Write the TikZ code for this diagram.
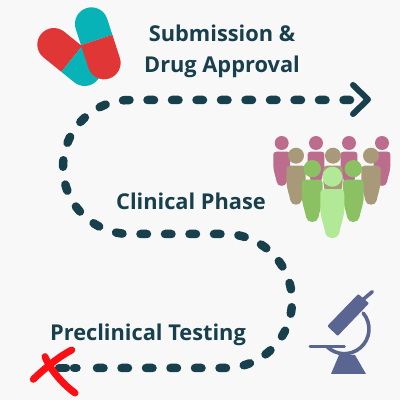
\documentclass[tikz,border=0pt]{standalone}
\usepackage{fontspec}
\setmainfont{Open Sans}
\usepackage{tikz}
\usetikzlibrary{calc, positioning}
\definecolor{pagebg}{HTML}{F8F8F8}
\definecolor{trailteal}{HTML}{173F4C}
\definecolor{pillred}{HTML}{E03636}
\definecolor{pillteal}{HTML}{08B3B8}
\definecolor{crowdpink}{HTML}{BC6C8C}
\definecolor{crowdtan}{HTML}{A89A78}
\definecolor{crowdgreen}{HTML}{8BC163}
\definecolor{crowdlight}{HTML}{B2E996}
\definecolor{scopeblue}{HTML}{5B6592}
\definecolor{markred}{HTML}{FB0F14}
\tikzset{
  trail/.style      = {draw=trailteal, line width=8.5pt, line cap=round,
                       dash pattern=on 6.5pt off 18pt},
  trailtip/.style   = {draw=trailteal, line width=6pt, line cap=round, line join=round},
  phaselab/.style   = {font=\fontsize{21.8}{31}\selectfont\bfseries, text=trailteal,
                       align=center, inner sep=0pt},
  scopeline/.style  = {draw=scopeblue, line width=3.6pt, line cap=round},
  markstroke/.style = {draw=markred, line width=7pt, line cap=round},
}
\newcommand{\halfpill}[4]{%
  \fill[#4, shift={(#1)}, rotate=#2] (0,-16.5) -- (#3,-16.5)
    arc[start angle=-90, end angle=90, radius=16.5] -- (0,16.5) -- cycle;}
\newcommand{\person}[3]{%
  \fill[#3, shift={(#1)}, scale=#2] (0,0) circle (1);
  \fill[#3, shift={(#1)}, scale=#2] (-0.8,-1.25) -- (0.8,-1.25)
    .. controls (1.1,-1.25) and (1.2,-1.45) .. (1.2,-1.7) -- (1.2,-3.2)
    .. controls (1.2,-4) and (0.8,-5) .. (0.7,-5.6)
    .. controls (0.6,-6.3) and (-0.6,-6.3) .. (-0.7,-5.6)
    .. controls (-0.8,-5) and (-1.2,-4) .. (-1.2,-3.2) -- (-1.2,-1.7)
    .. controls (-1.2,-1.45) and (-1.1,-1.25) .. (-0.8,-1.25) -- cycle;}

\begin{document}
\begin{tikzpicture}[x=1pt, y=1pt]
  \fill[pagebg] (0,0) rectangle (400,400);
  \useasboundingbox (0,0) rectangle (400,400);
  % trail
  \coordinate (T0) at (59,32);
  \coordinate (T1) at (97,32);
  \coordinate (T2) at (225,32);
  \coordinate (T3) at (130,166);
  \coordinate (T4) at (364,300);
  \draw[draw=trailteal, line width=8.5pt, line cap=round,
        dash pattern=on 7pt off 8pt on 2.5pt off 30pt] (T0) -- (T1);
  \draw[trail] (T1) -- (T2) arc[start angle=-90, end angle=90, radius=67]
    -- (T3) arc[start angle=270, end angle=90, radius=67] -- (T4);
  \draw[trailtip] (353,315) -- (368,300.5) -- (353,286);
  % pills
  \coordinate (P1) at (71.7,341);
  \coordinate (P2) at (96.7,360);
  \halfpill{P1}{141}{23}{pillred}
  \halfpill{P1}{-39}{16.7}{pillteal}
  \halfpill{P2}{108}{17}{pillteal}
  \halfpill{P2}{-72}{24}{pillred}
  % crowd
  \person{281.7,257}{7}{crowdpink}
  \person{316,257}{7}{crowdpink}
  \person{349,257}{7}{crowdpink}
  \person{382,257}{7}{crowdpink}
  \person{296,244.3}{8}{crowdtan}
  \person{333,244.3}{8}{crowdtan}
  \person{371,244.3}{8}{crowdtan}
  \person{312.3,231.3}{8.7}{crowdgreen}
  \person{353.3,231.3}{8.7}{crowdgreen}
  \person{332.3,223.3}{10}{crowdlight}
  % microscope
  \coordinate (M) at (344.3,71);
  \fill[scopeblue, rounded corners=1pt] (327.3,74) -- (358.3,106) -- (369,96.7) -- (337.7,64) -- cycle;
  \draw[scopeline] (363.3,100.7) -- (372.3,108.3);
  \draw[scopeline] ($(M)+(40:24.7)$) arc[start angle=40, end angle=-135, radius=24.7];
  \draw[scopeline, line width=3pt] (310,53.3) -- (344.3,53.3);
  \fill[scopeblue] (339,45) -- (355,45) -- (366,26) -- (331,26) -- cycle;
  % cross
  \draw[markstroke] (71.7,50) .. controls (60,44) and (46,33) .. (33.3,20.7);
  \draw[markstroke] (45,43.3) .. controls (49,33) and (60,18) .. (75,7);
  % labels
  \node[phaselab] (submit) at (222,349) {Submission \&\\Drug Approval};
  \node[phaselab] (clinical) at (191,199) {Clinical Phase};
  \node[phaselab] (preclin) at (148,65.5) {Preclinical Testing};
\end{tikzpicture}
\end{document}
